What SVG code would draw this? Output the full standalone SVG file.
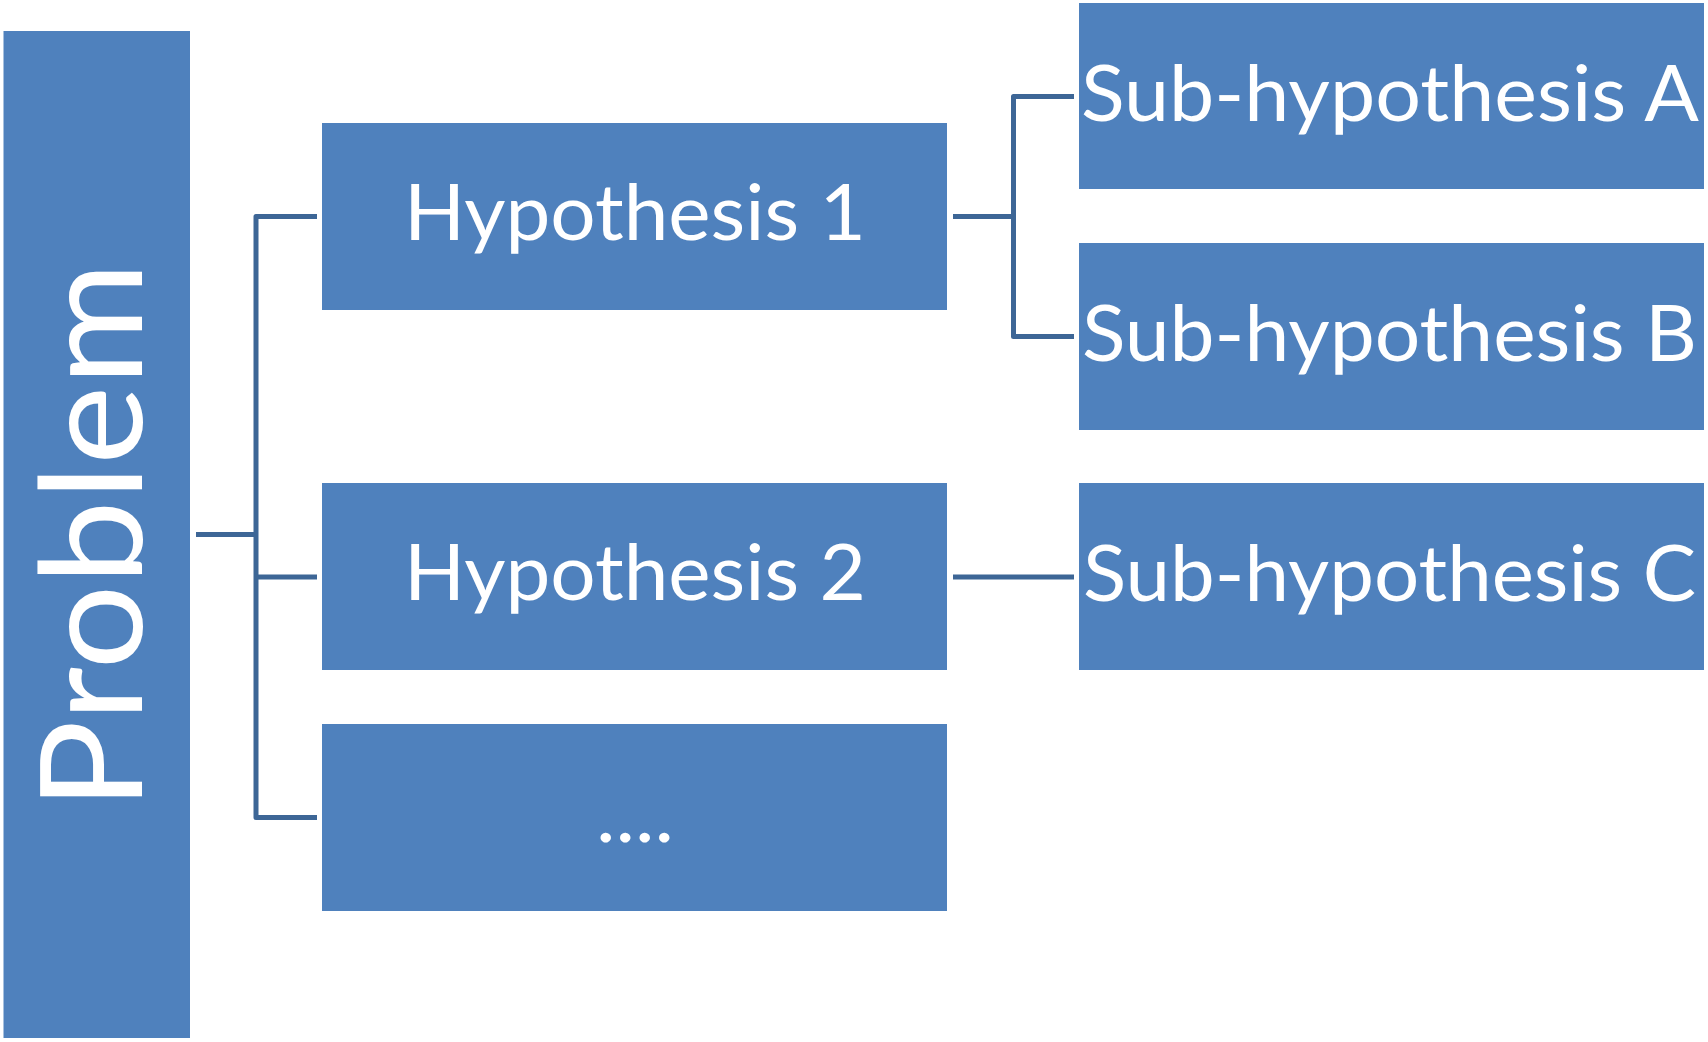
<svg xmlns="http://www.w3.org/2000/svg" width="1708" height="1042" viewBox="0 0 1708 1042">
<style>
.box{fill:#4F81BD}
.lbl{font-family:Lato,"Open Sans","Liberation Sans",sans-serif;fill:#FFFFFF;font-size:78px}
.big{font-size:142px}
.con{fill:none;stroke:#3D6696;stroke-width:5;stroke-linejoin:round}
</style>
<rect width="1708" height="1042" fill="#FFFFFF"/>
<g id="connectors">
<polyline class="con" points="317,216.5 256,216.5 256,817.5 317,817.5"/>
<line class="con" x1="196" y1="534.5" x2="256" y2="534.5"/>
<line class="con" x1="256" y1="577" x2="317" y2="577"/>
<polyline class="con" points="1074,96.5 1013.5,96.5 1013.5,336.5 1074,336.5"/>
<line class="con" x1="953" y1="216.5" x2="1013.5" y2="216.5"/>
<line class="con" x1="953" y1="577" x2="1074" y2="577"/>
</g>
<g id="problem">
<rect class="box" x="3.5" y="31" width="186.5" height="1007"/>
<text class="lbl big" transform="translate(142,810) rotate(-90)" x="0" y="0" textLength="548" lengthAdjust="spacingAndGlyphs">Problem</text>
</g>
<g id="h1">
<rect class="box" x="322" y="123" width="625" height="187"/>
<text class="lbl" x="404" y="240" textLength="462" lengthAdjust="spacingAndGlyphs">Hypothesis 1</text>
</g>
<g id="h2">
<rect class="box" x="322" y="483" width="625" height="187"/>
<text class="lbl" x="404" y="600" textLength="462" lengthAdjust="spacingAndGlyphs">Hypothesis 2</text>
</g>
<g id="h3">
<rect class="box" x="322" y="724" width="625" height="187"/>
<text class="lbl" x="596" y="842" textLength="78" lengthAdjust="spacingAndGlyphs">....</text>
</g>
<g id="subA">
<rect class="box" x="1079" y="3" width="625" height="186"/>
<text class="lbl" x="1081" y="121" textLength="618" lengthAdjust="spacingAndGlyphs">Sub-hypothesis A</text>
</g>
<g id="subB">
<rect class="box" x="1079" y="243" width="625" height="187"/>
<text class="lbl" x="1082" y="361" textLength="615" lengthAdjust="spacingAndGlyphs">Sub-hypothesis B</text>
</g>
<g id="subC">
<rect class="box" x="1079" y="483" width="625" height="187"/>
<text class="lbl" x="1083" y="601" textLength="613" lengthAdjust="spacingAndGlyphs">Sub-hypothesis C</text>
</g>
</svg>
